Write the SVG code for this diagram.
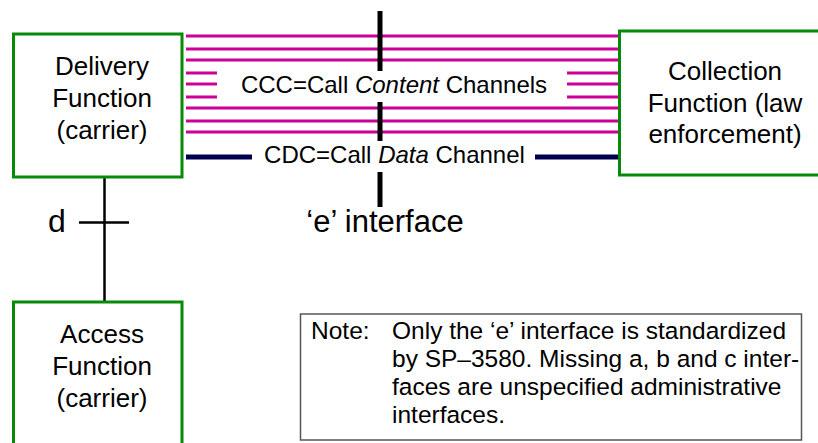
<svg xmlns="http://www.w3.org/2000/svg" width="818" height="443" viewBox="0 0 818 443">
<style>
.box{fill:#fff;stroke:#078a07;stroke-width:3}
.t{font-family:"Liberation Sans",Arial,sans-serif;fill:#000}
.bt{font-size:26px;text-anchor:middle}
.ccc{stroke:#cc0099;stroke-width:3}
.cdc{stroke:#000050;stroke-width:5}
.bar{stroke:#000;stroke-width:5}
.ln{stroke:#000;stroke-width:2.5}
.nt{font-size:24.5px}
</style>
<rect width="818" height="443" fill="#fff"/>
<g id="connectors">
<g id="ccc-lines">
<line class="ccc" x1="186" y1="36" x2="620" y2="36"/>
<line class="ccc" x1="186" y1="49" x2="620" y2="49"/>
<line class="ccc" x1="186" y1="60" x2="620" y2="60"/>
<line class="ccc" x1="186" y1="73" x2="217" y2="73"/>
<line class="ccc" x1="186" y1="84" x2="217" y2="84"/>
<line class="ccc" x1="186" y1="97" x2="217" y2="97"/>
<line class="ccc" x1="567" y1="73" x2="620" y2="73"/>
<line class="ccc" x1="567" y1="84" x2="620" y2="84"/>
<line class="ccc" x1="567" y1="97" x2="620" y2="97"/>
<line class="ccc" x1="186" y1="108" x2="620" y2="108"/>
<line class="ccc" x1="186" y1="121" x2="620" y2="121"/>
<line class="ccc" x1="186" y1="132" x2="620" y2="132"/>
</g>
<g id="cdc-line">
<line class="cdc" x1="186" y1="157" x2="252" y2="157"/>
<line class="cdc" x1="535" y1="157" x2="620" y2="157"/>
</g>
<g id="e-interface">
<line class="bar" x1="380" y1="11" x2="380" y2="71"/>
<line class="bar" x1="380" y1="102" x2="380" y2="141"/>
<line class="bar" x1="380" y1="172" x2="380" y2="207"/>
</g>
<g id="d-interface">
<line class="ln" x1="104.5" y1="177" x2="104.5" y2="302"/>
<line class="ln" x1="79" y1="222.5" x2="129" y2="222.5"/>
</g>
</g>
<text class="t" x="394" y="93" font-size="24" text-anchor="middle">CCC=Call <tspan font-style="italic">Content</tspan> Channels</text>
<text class="t" x="394.5" y="163" font-size="24" text-anchor="middle">CDC=Call <tspan font-style="italic">Data</tspan> Channel</text>
<text class="t" x="385" y="232" font-size="31" text-anchor="middle">‘e’ interface</text>
<text class="t" x="48" y="232" font-size="32">d</text>
<g id="delivery">
<rect class="box" x="13.5" y="34" width="168.5" height="143"/>
<text class="t bt" x="102" y="75">Delivery</text>
<text class="t bt" x="102" y="107">Function</text>
<text class="t bt" x="102" y="139">(carrier)</text>
</g>
<g id="collection">
<rect class="box" x="619.5" y="31" width="212" height="144"/>
<text class="t bt" x="725" y="80">Collection</text>
<text class="t bt" x="725" y="112">Function (law</text>
<text class="t bt" x="725" y="143">enforcement)</text>
</g>
<g id="access">
<rect class="box" x="13.5" y="302" width="168.5" height="160"/>
<text class="t bt" x="102" y="343">Access</text>
<text class="t bt" x="102" y="375">Function</text>
<text class="t bt" x="102" y="407">(carrier)</text>
</g>
<g id="note">
<rect x="300.5" y="314" width="501" height="126" fill="#fff" stroke="#555" stroke-width="1.5"/>
<text class="t nt" x="311" y="339">Note:</text>
<text class="t nt" x="392" y="339">Only the ‘e’ interface is standardized</text>
<text class="t nt" x="392" y="367">by SP–3580. Missing a, b and c inter-</text>
<text class="t nt" x="392" y="395">faces are unspecified administrative</text>
<text class="t nt" x="392" y="423">interfaces.</text>
</g>
</svg>
